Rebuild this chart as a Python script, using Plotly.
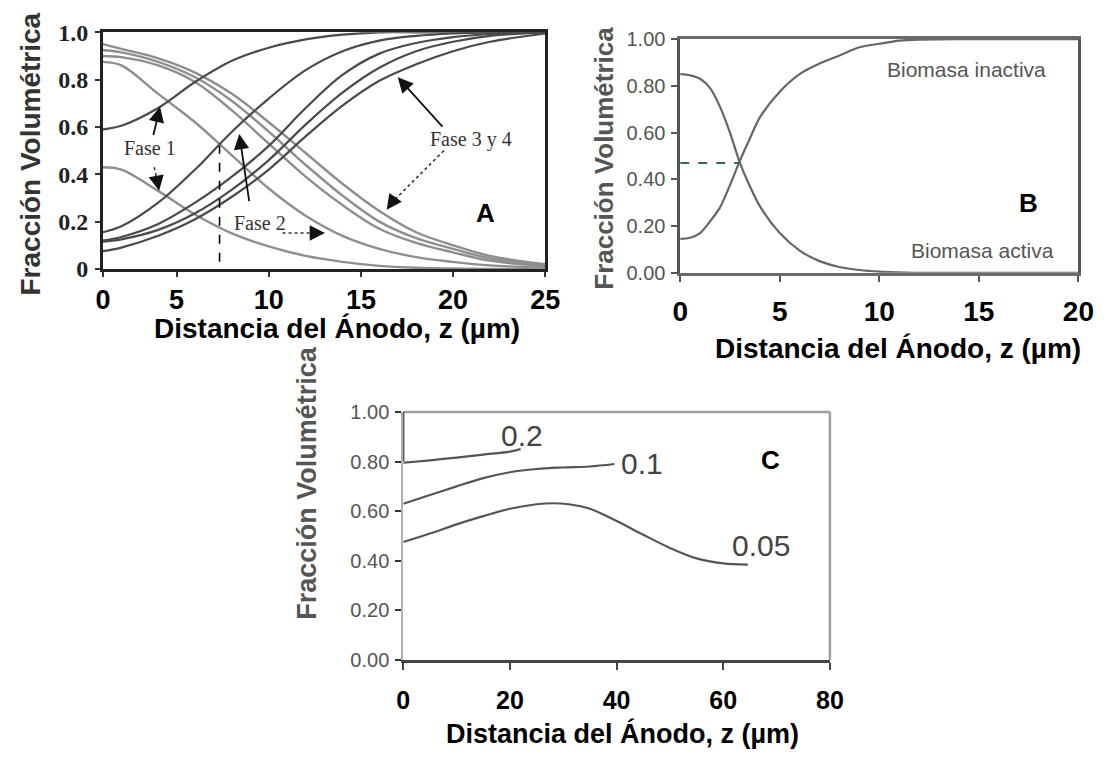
import plotly.graph_objects as go

W, H = 1114, 761

# ---------------- Panel A: fracción volumétrica por fase ----------------
z_a = [1, 2, 4, 6, 8, 10, 12, 14, 16, 18, 20, 22, 25]
inact_f1 = [0.59, 0.605, 0.68, 0.79, 0.88, 0.935, 0.97, 0.99, 1.0, 1.0, 1.0, 1.0, 1.0]
act_f1 = [0.43, 0.42, 0.33, 0.23, 0.15, 0.095, 0.055, 0.03, 0.013, 0.005, 0.002, 0.0, 0.0]
inact_f2 = [0.155, 0.18, 0.28, 0.42, 0.58, 0.72, 0.84, 0.92, 0.965, 0.985, 0.995, 1.0, 1.0]
act_f2 = [0.875, 0.86, 0.74, 0.62, 0.48, 0.34, 0.225, 0.14, 0.085, 0.05, 0.03, 0.015, 0.005]
inact_f3 = [0.12, 0.135, 0.19, 0.28, 0.39, 0.52, 0.68, 0.82, 0.91, 0.955, 0.98, 0.993, 1.0]
inact_f4 = [0.115, 0.125, 0.165, 0.235, 0.335, 0.46, 0.61, 0.745, 0.85, 0.92, 0.96, 0.985, 1.0]
inact_f5 = [0.075, 0.09, 0.14, 0.21, 0.305, 0.42, 0.56, 0.69, 0.795, 0.865, 0.92, 0.96, 0.995]
act_f3 = [0.90, 0.895, 0.86, 0.79, 0.67, 0.53, 0.39, 0.27, 0.17, 0.11, 0.07, 0.035, 0.012]
act_f4 = [0.925, 0.915, 0.875, 0.81, 0.71, 0.58, 0.44, 0.31, 0.20, 0.13, 0.085, 0.045, 0.016]
act_f5 = [0.95, 0.93, 0.89, 0.83, 0.74, 0.62, 0.49, 0.36, 0.245, 0.155, 0.10, 0.055, 0.02]
z_a_ticks = [1, 5, 10, 15, 20, 25]
z_a_labels = ["0", "5", "10", "15", "20", "25"]
f_a_ticks = [0, 0.2, 0.4, 0.6, 0.8, 1.0]
f_a_labels = ["0", "0.2", "0.4", "0.6", "0.8", "1.0"]
z_fase2_marker = 7.33
f_fase2_marker = 0.52

# ---------------- Panel B: biomasa activa / inactiva ----------------
z_b = [0, 0.5, 1, 1.5, 2, 2.5, 3, 3.5, 4, 5, 6, 7, 8, 9, 10, 11, 12, 14, 16, 18, 20]
activa_b = [0.85, 0.845, 0.83, 0.79, 0.71, 0.60, 0.47, 0.37, 0.285, 0.17, 0.095, 0.05,
            0.025, 0.012, 0.005, 0.002, 0.0, 0.0, 0.0, 0.0, 0.0]
inactiva_b = [0.145, 0.15, 0.17, 0.22, 0.28, 0.375, 0.48, 0.575, 0.665, 0.775, 0.85, 0.895,
              0.93, 0.965, 0.98, 0.993, 0.998, 1.0, 1.0, 1.0, 1.0]
z_b_cross = 2.95
f_b_cross = 0.47
z_b_ticks = [0, 5, 10, 15, 20]
f_bc_ticks = [0, 0.2, 0.4, 0.6, 0.8, 1.0]
f_bc_labels = ["0.00", "0.20", "0.40", "0.60", "0.80", "1.00"]

# ---------------- Panel C: perfiles para tres parámetros ----------------
z_c02 = [0, 5, 10, 15, 20, 22]
f_c02 = [0.795, 0.805, 0.816, 0.828, 0.84, 0.85]
z_c01 = [0, 5, 10, 15, 20, 25, 30, 35, 39.6]
f_c01 = [0.63, 0.665, 0.70, 0.733, 0.757, 0.77, 0.776, 0.78, 0.79]
z_c005 = [0, 5, 10, 15, 20, 25, 28, 31, 35, 40, 45, 50, 55, 60, 64.6]
f_c005 = [0.476, 0.51, 0.547, 0.58, 0.61, 0.628, 0.632, 0.628, 0.61, 0.56, 0.505,
          0.452, 0.41, 0.39, 0.385]
z_c_ticks = [0, 20, 40, 60, 80]

SANS = "Liberation Sans, Arial, sans-serif"
SERIF = "Liberation Serif, Times New Roman, serif"
XTITLE = "Distancia del Ánodo, z (µm)"
YTITLE = "Fracción Volumétrica"


def px_x(px):
    return px / W


def px_y(py):
    return 1 - py / H


fig = go.Figure()

# Panel A curves: dark = increasing fraction, light = decreasing fraction
dark_a = dict(color="#4a4a4a", width=2.2, shape="spline", smoothing=1.0)
light_a = dict(color="#8e8e8e", width=2.4, shape="spline", smoothing=1.0)
for ys in (act_f1, act_f2, act_f3, act_f4, act_f5):
    fig.add_trace(go.Scatter(x=z_a, y=ys, mode="lines", line=light_a,
                             xaxis="x", yaxis="y", hoverinfo="skip"))
for ys in (inact_f1, inact_f2, inact_f3, inact_f4, inact_f5):
    fig.add_trace(go.Scatter(x=z_a, y=ys, mode="lines", line=dark_a,
                             xaxis="x", yaxis="y", hoverinfo="skip"))

# dotted arrow shafts in panel A
dotted = dict(color="#333", width=1.6, dash="dot")
for (x0, y0, x1, y1) in [(10.75, 0.152, 12.5, 0.152), (19.5, 0.50, 16.8, 0.29),
                         (3.78, 0.43, 3.93, 0.38)]:
    fig.add_trace(go.Scatter(x=[x0, x1], y=[y0, y1], mode="lines", line=dotted,
                             xaxis="x", yaxis="y", hoverinfo="skip"))

# Panel B curves
line_b = dict(color="#666666", width=2.2, shape="spline", smoothing=0.8)
fig.add_trace(go.Scatter(x=z_b, y=activa_b, mode="lines", line=line_b,
                         xaxis="x2", yaxis="y2", hoverinfo="skip"))
fig.add_trace(go.Scatter(x=z_b, y=inactiva_b, mode="lines", line=line_b,
                         xaxis="x2", yaxis="y2", hoverinfo="skip"))

# Panel C curves
line_c = dict(color="#555555", width=2.2, shape="spline", smoothing=0.9)
for xs, ys in ((z_c02, f_c02), (z_c01, f_c01), (z_c005, f_c005)):
    fig.add_trace(go.Scatter(x=xs, y=ys, mode="lines", line=line_c,
                             xaxis="x3", yaxis="y3", hoverinfo="skip"))

fig.update_layout(
    width=W, height=H,
    margin=dict(l=0, r=0, t=0, b=0),
    paper_bgcolor="white", plot_bgcolor="white",
    showlegend=False,
    xaxis=dict(domain=[px_x(97), px_x(549)], range=[1, 25], anchor="y",
               tickvals=z_a_ticks, ticktext=z_a_labels,
               tickfont=dict(family=SANS, size=27, color="#000", weight="bold"),
               showline=True, linecolor="#222", linewidth=2.5, mirror=True,
               ticks="outside", ticklen=5, tickwidth=2, tickcolor="#333",
               showgrid=False, zeroline=False, ticklabelstandoff=0),
    yaxis=dict(domain=[px_y(265), px_y(20)], range=[0, 1], anchor="x",
               tickvals=f_a_ticks, ticktext=f_a_labels,
               tickfont=dict(family=SERIF, size=24, color="#222", weight="bold"),
               showline=True, linecolor="#222", linewidth=2.5, mirror=True,
               ticks="outside", ticklen=5, tickwidth=2, tickcolor="#333",
               showgrid=False, zeroline=False, ticklabelstandoff=2),
    xaxis2=dict(domain=[px_x(687), px_x(1094)], range=[0, 20], anchor="y2",
                tickvals=z_b_ticks,
                tickfont=dict(family=SANS, size=28, color="#000", weight="bold"),
                showline=True, linecolor="#6a6a6a", linewidth=2.5, mirror=True,
                ticks="outside", ticklen=6, tickwidth=2, tickcolor="#555",
                showgrid=False, zeroline=False, ticklabelstandoff=6),
    yaxis2=dict(domain=[px_y(269), px_y(27)], range=[0, 1], anchor="x2",
                tickvals=f_bc_ticks, ticktext=f_bc_labels,
                tickfont=dict(family=SANS, size=20, color="#555"),
                showline=True, linecolor="#555", linewidth=2.5, mirror=True,
                ticks="outside", ticklen=6, tickwidth=2, tickcolor="#555",
                showgrid=False, zeroline=False, ticklabelstandoff=2),
    xaxis3=dict(domain=[px_x(404), px_x(840)], range=[0, 80], anchor="y3",
                tickvals=z_c_ticks,
                tickfont=dict(family=SANS, size=25, color="#000", weight="bold"),
                showline=True, linecolor="#444", linewidth=2.5, mirror=False,
                ticks="outside", ticklen=7, tickwidth=2, tickcolor="#444",
                showgrid=False, zeroline=False, ticklabelstandoff=9),
    yaxis3=dict(domain=[px_y(670), px_y(413)], range=[0, 1], anchor="x3",
                tickvals=f_bc_ticks, ticktext=f_bc_labels,
                tickfont=dict(family=SANS, size=20, color="#555"),
                showline=True, linecolor="#b0b0b0", linewidth=2, mirror=False,
                ticks="outside", ticklen=6, tickwidth=2, tickcolor="#333",
                showgrid=False, zeroline=False, ticklabelstandoff=2),
)

shapes = [
    # fase 2 reference line
    dict(type="line", xref="x", yref="y", x0=z_fase2_marker, x1=z_fase2_marker,
         y0=0.03, y1=f_fase2_marker, line=dict(color="#000", width=1.6, dash="dash")),
    # crossing level in panel B
    dict(type="line", xref="x2", yref="y2", x0=0, x1=z_b_cross, y0=f_b_cross, y1=f_b_cross,
         line=dict(color="#2f6b58", width=2, dash="dash")),
    # frame of panel C
    dict(type="line", xref="x3 domain", yref="y3 domain", x0=0, x1=1, y0=1, y1=1,
         line=dict(color="#a0a0a0", width=2.5)),
    dict(type="line", xref="x3 domain", yref="y3 domain", x0=1, x1=1, y0=0, y1=1,
         line=dict(color="#a0a0a0", width=2.5)),
    dict(type="line", xref="x3", yref="y3", x0=0, x1=0, y0=0.8, y1=1.0,
         line=dict(color="#111", width=2)),
]
fig.update_layout(shapes=shapes)

ann = []


def title(text, cx, cy, size, color, angle=0):
    ann.append(dict(text=text, xref="paper", yref="paper", x=px_x(cx), y=px_y(cy),
                    xanchor="center", yanchor="middle", showarrow=False, textangle=angle,
                    font=dict(family=SANS, size=size, color=color, weight="bold")))


title(YTITLE, 23, 146, 28, "#333", -90)
title(YTITLE, 609, 150, 26, "#555", -90)
title(YTITLE, 306, 486, 27, "#555", -90)
title(XTITLE, 336, 327, 28, "#000")
title(XTITLE, 910, 347, 28, "#000")
title(XTITLE, 628, 746, 27, "#000")

# Panel A labels
fase_font = dict(family=SERIF, size=20, color="#333")
for text, x, y in [("Fase 1", 3.55, 0.51), ("Fase 2", 9.5, 0.196), ("Fase 3 y 4", 21.0, 0.547)]:
    ann.append(dict(text=text, xref="x", yref="y", x=x, y=y, showarrow=False, font=fase_font))
for (x0, y0, x1, y1) in [(3.72, 0.56, 4.1, 0.685), (8.95, 0.28, 8.4, 0.57),
                         (19.5, 0.595, 17.0, 0.81), (3.9, 0.39, 4.05, 0.33),
                         (12.4, 0.152, 13.05, 0.152), (16.95, 0.31, 16.4, 0.25)]:
    ann.append(dict(text="", xref="x", yref="y", x=x1, y=y1, ax=x0, ay=y0,
                    axref="x", ayref="y", showarrow=True, arrowhead=2, arrowsize=1.7,
                    arrowwidth=1.8, arrowcolor="#111", standoff=0, startstandoff=0))
ann.append(dict(text="A", xref="x", yref="y", x=21.75, y=0.237, showarrow=False,
                font=dict(family=SANS, size=26, color="#000", weight="bold")))

# Panel B labels
lab_b = dict(family=SANS, size=21, color="#555")
ann.append(dict(text="Biomasa inactiva", xref="x2", yref="y2", x=14.4, y=0.87,
                showarrow=False, font=lab_b))
ann.append(dict(text="Biomasa activa", xref="x2", yref="y2", x=15.2, y=0.094,
                showarrow=False, font=lab_b))
ann.append(dict(text="B", xref="x2", yref="y2", x=17.5, y=0.30, showarrow=False,
                font=dict(family=SANS, size=26, color="#000", weight="bold")))

# Panel C labels
lab_c = dict(family=SANS, size=30, color="#444")
for text, x, y in [("0.2", 22.3, 0.905), ("0.1", 44.7, 0.793), ("0.05", 67.0, 0.462)]:
    ann.append(dict(text=text, xref="x3", yref="y3", x=x, y=y, showarrow=False, font=lab_c))
ann.append(dict(text="C", xref="x3", yref="y3", x=68.9, y=0.806, showarrow=False,
                font=dict(family=SANS, size=26, color="#000", weight="bold")))

fig.update_layout(annotations=ann)

fig.write_html("out.html")
